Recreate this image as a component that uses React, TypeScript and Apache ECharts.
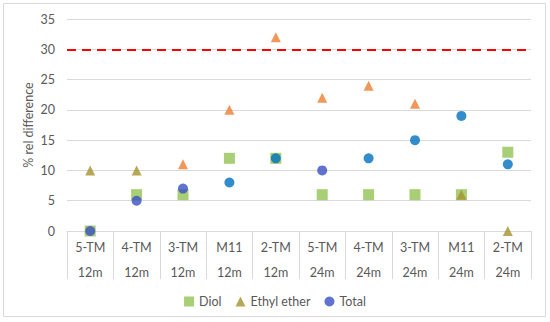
import React, { useEffect, useRef } from "react";
import * as echarts from "echarts";

const compounds = ["5-TM", "4-TM", "3-TM", "M11", "2-TM", "5-TM", "4-TM", "3-TM", "M11", "2-TM"];
const periods = ["12m", "12m", "12m", "12m", "12m", "24m", "24m", "24m", "24m", "24m"];
const diol = [0, 6, 6, 12, 12, 6, 6, 6, 6, 13];
const ethylEther = [10, 10, 11, 20, 32, 22, 24, 21, 6, 0];
const total = [0, 5, 7, 8, 12, 10, 12, 15, 19, 11];
const yTicks = [0, 5, 10, 15, 20, 25, 30, 35];
const threshold = 30;

const GREEN = "#92c353";
const ORANGE = "#ed7d31";
const OLIVE = "#a5922e";
const BLUE = "#0070c0";
const DARKBLUE = "#3b4fc4";
const oliveIdx = [0, 1, 8, 9];
const darkBlueIdx = [0, 1, 2, 5];
const FONT = "Lato";

export default function App() {
  const ref = useRef<HTMLDivElement>(null);
  useEffect(() => {
    if (!ref.current) return;
    const chart = echarts.init(ref.current, null, { renderer: "svg" });
    const cats = compounds.map((c, i) => c + "\n" + periods[i]);
    chart.setOption({
      animation: false,
      textStyle: { fontFamily: FONT },
      graphic: [
        {
          type: "rect",
          shape: { x: 3.5, y: 3.5, width: 542, height: 313 },
          style: { fill: "none", stroke: "#d9d9d9", lineWidth: 1 },
        },
      ],
      grid: { left: 67, right: 19, top: 19, bottom: 91 },
      legend: {
        left: "center",
        top: 290,
        itemWidth: 10,
        itemHeight: 10,
        itemGap: 14,
        textStyle: { color: "#595959", fontSize: 12.5, fontFamily: FONT },
        data: [
          { name: "Diol", icon: "rect", itemStyle: { color: GREEN } },
          { name: "Ethyl ether", icon: "triangle", itemStyle: { color: OLIVE } },
          { name: "Total", icon: "circle", itemStyle: { color: DARKBLUE } },
        ],
      },
      xAxis: {
        type: "category",
        data: cats,
        boundaryGap: true,
        axisLine: { lineStyle: { color: "#d9d9d9" } },
        axisTick: { show: true, interval: 0, length: 48, lineStyle: { color: "#d9d9d9" } },
        axisLabel: {
          interval: 0,
          color: "#595959",
          fontSize: 12.5,
          lineHeight: 25,
          margin: 4,
          fontFamily: FONT,
        },
      },
      yAxis: {
        type: "value",
        min: 0,
        max: yTicks[yTicks.length - 1],
        interval: 5,
        name: "% rel difference",
        nameLocation: "middle",
        nameGap: 32,
        nameMoveOverlap: false,
        nameTextStyle: { color: "#595959", fontSize: 12.5, fontFamily: FONT },
        axisLine: { show: false },
        axisTick: { show: false },
        axisLabel: { color: "#595959", fontSize: 12.5, margin: 12, fontFamily: FONT },
        splitLine: { lineStyle: { color: "#d9d9d9" } },
      },
      series: [
        {
          name: "Diol",
          type: "scatter",
          symbol: "rect",
          symbolSize: 11,
          itemStyle: { color: GREEN },
          data: diol,
          z: 2,
        },
        {
          name: "Ethyl ether",
          type: "scatter",
          symbol: "triangle",
          symbolSize: 10,
          itemStyle: { color: ORANGE },
          data: ethylEther.map((v, i) =>
            oliveIdx.includes(i) ? { value: v, itemStyle: { color: OLIVE } } : v
          ),
          z: 3,
          markLine: {
            silent: true,
            symbol: "none",
            label: { show: false },
            lineStyle: { color: "#ff0000", type: [9, 6], width: 2 },
            data: [{ yAxis: threshold }],
          },
        },
        {
          name: "Total",
          type: "scatter",
          symbol: "circle",
          symbolSize: 10,
          itemStyle: { color: BLUE },
          data: total.map((v, i) =>
            darkBlueIdx.includes(i) ? { value: v, itemStyle: { color: DARKBLUE } } : v
          ),
          z: 4,
        },
      ],
    });
    return () => chart.dispose();
  }, []);
  return (
    <div
      ref={ref}
      style={{ position: "fixed", left: 0, top: 0, width: 550, height: 322, background: "#fff" }}
    />
  );
}
